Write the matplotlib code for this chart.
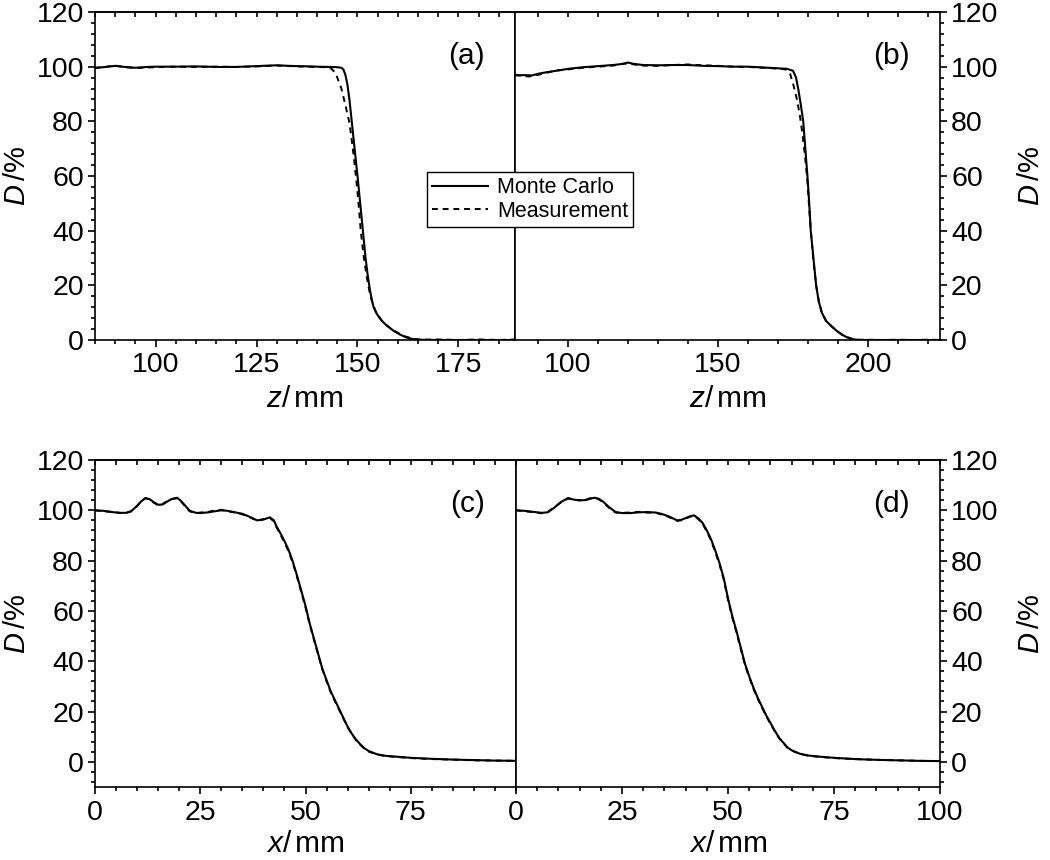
import matplotlib
matplotlib.use("Agg")
import matplotlib.pyplot as plt
from matplotlib.ticker import MultipleLocator

plt.rcParams['font.family'] = ['Liberation Sans', 'DejaVu Sans']
plt.rcParams['mathtext.fontset'] = 'custom'
plt.rcParams['mathtext.it'] = 'Liberation Sans:italic'
plt.rcParams['mathtext.rm'] = 'Liberation Sans'

# (a) depth dose, z in mm
z_a_mc = [85, 87, 90, 93, 95, 98, 100, 105, 110, 115, 120, 125, 128, 130, 133, 135, 138, 140, 143, 145,
          146, 146.5, 147, 147.5, 148, 148.5, 149, 149.5, 150, 150.5, 151, 151.5, 152, 152.5, 153, 153.5,
          154, 154.6, 155.5, 156.5, 157.5, 159, 160.5, 162, 163.5, 165, 170, 175, 180, 185, 189]
d_a_mc = [99.6, 99.8, 100.3, 99.8, 99.6, 99.9, 100, 100, 100.1, 99.9, 99.9, 100.2, 100.4, 100.5, 100.3, 100.2,
          100.1, 100, 99.9, 99.8, 99.6, 99, 97, 93.5, 88, 81, 74, 67, 60, 52.5, 45, 37.5, 30, 24, 19, 15,
          12, 10, 8, 6.3, 5, 3.3, 2, 1, 0.4, 0.1, 0, 0, 0, 0, 0]
z_a_ms = [85, 88, 90, 92, 95, 100, 105, 110, 115, 120, 125, 130, 135, 140, 142, 143.5, 144.5, 145, 146, 147,
          148, 148.5, 149, 149.6, 150.2, 150.8, 151.5, 152.3, 153, 153.7, 154.5, 156, 157.5, 159, 160.5,
          162, 164, 166, 170, 175, 180, 185, 189]
d_a_ms = [99.5, 100, 100.4, 99.9, 99.5, 99.8, 100, 99.9, 100, 99.9, 100.1, 100.4, 100.1, 99.9, 99.8, 99.3,
          97.8, 96, 92, 86, 79.5, 74, 68, 60, 51, 40, 31, 23, 17.5, 13.5, 10.5, 7, 5, 3.5, 2.2, 1.2,
          0.4, 0.1, 0.2, 0, 0.2, 0, 0.2]

# (b) depth dose, z in mm
z_b_mc = [82.3, 85, 88, 90, 93, 96, 100, 105, 110, 115, 118, 120, 122, 125, 130, 135, 140, 145, 150, 155,
          160, 165, 170, 173, 175, 176, 176.8, 177.6, 178.4, 179.1, 179.8, 180.4, 180.9, 181.8, 182.7, 183.6,
          184.6, 186, 187.9, 189.5, 191.2, 193, 195, 197, 200, 205, 210, 215, 220, 224]
d_b_mc = [96.8, 96.9, 96.8, 97.4, 98, 98.5, 99.2, 99.8, 100.2, 100.6, 101, 101.5, 101, 100.6, 100.5, 100.6,
          100.6, 100.3, 100.2, 100, 100, 99.7, 99.4, 99.2, 98.5, 96, 91.5, 86, 80, 70, 60, 50, 40, 30, 20,
          14, 10, 7, 5, 3.4, 2, 1, 0.3, 0, 0, 0, 0, 0, 0, 0]
z_b_ms = [82.3, 85, 87, 90, 93, 96, 100, 105, 110, 115, 118, 120, 122, 125, 130, 135, 140, 145, 150, 155,
          160, 165, 170, 172.5, 174, 175.2, 176.3, 177.3, 178.2, 179.1, 179.8, 180.4, 181, 181.8, 182.7,
          183.6, 184.6, 186, 188, 190, 192, 194, 196, 200, 205, 210, 215, 220, 224]
d_b_ms = [97, 96.6, 96.4, 97, 97.8, 98.6, 99, 99.6, 100, 100.4, 101, 101.2, 100.8, 100.4, 100.3, 100.6,
          100.8, 100.5, 100.3, 100, 99.9, 99.6, 99.3, 99, 97.5, 93, 88, 82, 75, 66, 58, 48, 39, 29, 20,
          14, 10, 7, 4.8, 3, 1.6, 0.6, 0.1, 0.1, 0, 0.1, 0, 0.1, 0]

# (c) lateral profile, x in mm
x_c = [0, 2, 4, 6, 7.5, 8.5, 10, 11, 12, 13, 14, 15, 16, 17, 18, 19.5, 20.5, 21.5, 22.5, 24, 25, 27, 28, 30,
       31.5, 33, 35, 36.5, 38.5, 40, 41.5, 42.5, 43, 44, 45, 46, 47, 48, 49, 50, 51, 52, 53, 54, 55, 56,
       57, 58, 59, 60, 61, 62, 63, 64, 65, 67, 69, 72, 75, 80, 85, 90, 95, 100]
d_c_mc = [100, 99.8, 99.3, 99, 99, 99.5, 101.8, 103.6, 104.8, 104.4, 103.2, 102.2, 102.3, 103.3, 104.3, 105,
          103.6, 101.7, 99.8, 99, 98.9, 99.2, 99.5, 100, 99.8, 99.3, 98.6, 97.6, 96, 96.3, 97.2, 96, 94,
          91, 87.8, 84.2, 79.5, 74, 68, 62, 55, 49, 43, 37, 32.5, 28, 24.5, 21, 17.5, 14, 11.2, 8.8, 7,
          5.4, 4.3, 3, 2.4, 2, 1.6, 1.2, 0.9, 0.7, 0.5, 0.4]
d_c_ms = [100, 99.6, 99.4, 98.9, 99.1, 99.6, 101.6, 103.8, 104.9, 104.2, 103.0, 102.0, 102.5, 103.5, 104.5,
          104.8, 103.4, 101.4, 99.6, 98.8, 99.1, 99.4, 99.8, 100.2, 99.6, 99.2, 98.4, 97.4, 95.9, 96.5,
          97.0, 95.6, 93.6, 90.5, 87.2, 83.6, 79.0, 73.4, 67.5, 61.4, 54.6, 48.6, 42.6, 36.8, 32.0, 27.6,
          24.0, 20.6, 17.2, 13.8, 11.0, 8.6, 6.8, 5.2, 4.1, 2.9, 2.3, 1.9, 1.5, 1.1, 0.9, 0.6, 0.5, 0.4]

# (d) lateral profile, x in mm
x_d = [0, 2, 4, 6, 7.5, 9, 10.5, 12.3, 13.5, 15, 16.5, 17.5, 18.5, 19.5, 20.5, 22, 23.5, 25, 27, 29, 31, 33,
       34.5, 36, 37, 38, 39, 40, 41, 42, 43, 44, 45, 46, 47, 48, 49, 50, 51, 52, 53, 54, 55, 56, 57, 58,
       59, 60, 61, 62, 63, 64, 65, 67, 69, 72, 75, 80, 85, 90, 95, 100]
d_d_mc = [100, 99.8, 99.4, 99, 99.2, 101, 103.2, 104.9, 104.3, 103.9, 104.1, 104.6, 105, 104.6, 103.5, 101.2,
          99.3, 98.9, 98.9, 99.2, 99.3, 99.1, 98.5, 97.6, 96.8, 96, 96.2, 96.9, 97.6, 98, 96.8, 95, 92,
          88.5, 84, 79, 73, 65, 58, 52, 45.5, 39, 34, 29.5, 25.5, 22, 18.5, 15.5, 12.5, 9.7, 7.7, 5.8,
          4.6, 3.2, 2.5, 2, 1.6, 1.1, 0.8, 0.6, 0.4, 0.3]
d_d_ms = [100, 99.6, 99.3, 98.8, 99.4, 101.2, 103.0, 104.7, 104.1, 104.1, 104.3, 104.8, 104.8, 104.4, 103.2,
          100.9, 99.1, 99.0, 99.1, 99.4, 99.1, 99.0, 98.2, 97.4, 96.6, 95.8, 96.0, 96.7, 97.4, 97.8, 96.5,
          94.6, 91.6, 88.0, 83.4, 78.4, 72.4, 64.4, 57.4, 51.4, 45.0, 38.6, 33.6, 29.0, 25.1, 21.6, 18.2,
          15.2, 12.2, 9.5, 7.5, 5.6, 4.5, 3.1, 2.4, 1.9, 1.5, 1.1, 0.8, 0.6, 0.4, 0.3]

labels = ['Monte Carlo', 'Measurement']
panel_tags = ['(a)', '(b)', '(c)', '(d)']

W, H = 1050, 860
fig = plt.figure(figsize=(W / 100, H / 100), dpi=100)
ax_a = fig.add_axes([95 / W, 1 - 340 / H, 420 / W, 328 / H])
ax_b = fig.add_axes([515 / W, 1 - 340 / H, 425 / W, 328 / H])
ax_c = fig.add_axes([95 / W, 1 - 787 / H, 421 / W, 327 / H])
ax_d = fig.add_axes([516 / W, 1 - 787 / H, 424 / W, 327 / H])

series = [
    (ax_a, z_a_mc, d_a_mc, z_a_ms, d_a_ms),
    (ax_b, z_b_mc, d_b_mc, z_b_ms, d_b_ms),
    (ax_c, x_c, d_c_mc, x_c, d_c_ms),
    (ax_d, x_d, d_d_mc, x_d, d_d_ms),
]
handles = []
for ax, x1, y1, x2, y2 in series:
    l1, = ax.plot(x1, y1, color='black', lw=1.5, ls='-')
    l2, = ax.plot(x2, y2, color='black', lw=1.4, ls=(0, (3, 2.5)))
    if not handles:
        handles = [l1, l2]

limits = [((85, 189), (0, 120), 25, 5),
          ((82.3, 224), (0, 120), 50, 10),
          ((0, 100), (-10, 120), 25, 5),
          ((0, 100), (-10, 120), 25, 5)]

for i, (ax, lim) in enumerate(zip([ax_a, ax_b, ax_c, ax_d], limits)):
    (xl, yl, xmaj, xmin) = lim
    ax.set_xlim(*xl)
    ax.set_ylim(*yl)
    ax.xaxis.set_major_locator(MultipleLocator(xmaj))
    ax.xaxis.set_minor_locator(MultipleLocator(xmin))
    ax.yaxis.set_major_locator(MultipleLocator(20))
    ax.yaxis.set_minor_locator(MultipleLocator(4))
    for s in ax.spines.values():
        s.set_linewidth(1.2)
    ax.tick_params(axis='x', which='both', direction='out', labelsize=20.5, pad=4, width=1.2)
    ax.tick_params(axis='x', which='major', length=5)
    ax.tick_params(axis='x', which='minor', length=3)
    right = i % 2 == 1
    ax.tick_params(axis='y', which='both', direction='out', labelsize=20.5, pad=3, width=1.2,
                   left=not right, labelleft=not right, right=right, labelright=right)
    ax.tick_params(axis='y', which='major', length=5)
    ax.tick_params(axis='y', which='minor', length=3)
    if right:
        ax.yaxis.set_label_position('right')
        ax.set_ylabel(r'$D\,$/%', fontsize=21, labelpad=13)
    else:
        ax.set_ylabel(r'$D\,$/%', fontsize=21, labelpad=4)
    ax.set_xlabel(r'$z$/$\,$mm' if i < 2 else r'$x$/$\,$mm', fontsize=21.5,
                  labelpad=5 if i < 2 else 3)

    top = ax.secondary_xaxis('top')
    top.xaxis.set_major_locator(MultipleLocator(xmaj))
    top.xaxis.set_minor_locator(MultipleLocator(xmin))
    top.tick_params(which='both', direction='in', length=3.5, width=1.2, labeltop=False)
    top.spines['top'].set_linewidth(1.2)

    ax.text(0.885, 0.865, panel_tags[i], transform=ax.transAxes, fontsize=21.5,
            ha='center', va='center')

# panel (c) shares its right edge with (d): no "100" label there
ax_c.set_xticks([0, 25, 50, 75])
ax_c.set_xlim(0, 100)

fig.legend(handles, labels, loc='upper left', bbox_to_anchor=(427 / W, 1 - 172 / H),
           bbox_transform=fig.transFigure, frameon=True, fancybox=False, edgecolor='black',
           framealpha=1, fontsize=15.5, handlelength=2.6, handletextpad=0.4, borderpad=0.25,
           labelspacing=0.1, borderaxespad=0).get_frame().set_linewidth(1.0)

fig.savefig('out.png', dpi=100)
